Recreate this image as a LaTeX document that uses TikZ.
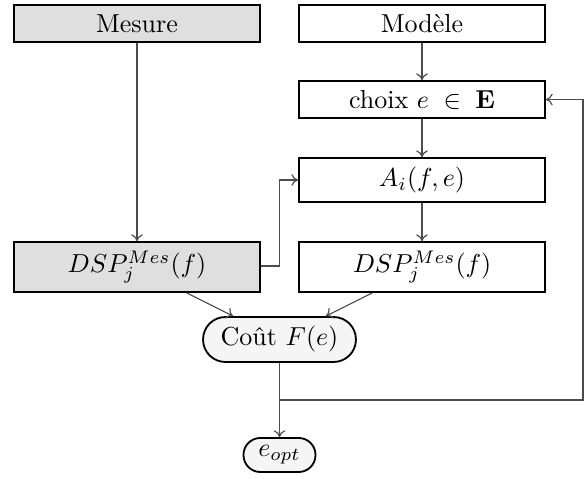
\documentclass[tikz,border=0pt]{standalone}
\usetikzlibrary{calc,arrows.meta}
\begin{document}
\begin{tikzpicture}[x=0.3846pt,y=-0.3846pt,
  box/.style={draw,line width=0.7pt,minimum width=94.6pt,inner sep=0pt},
  greybox/.style={box,fill=gray!25},
  pill/.style={draw,line width=0.7pt,fill=gray!8,inner sep=0pt},
  conn/.style={draw=black!70,line width=0.45pt,-{To[length=2.6pt,width=4.5pt]}},
  line/.style={draw=black!70,line width=0.45pt}]
\useasboundingbox (0,0) rectangle (585,479);
\node[greybox,minimum height=14.2pt] (mes) at (137,23.5) {Mesure};
\node[box,minimum height=14.2pt] (mod) at (422,23.5) {Modèle};
\node[box,minimum height=14.2pt] (choix) at (422,99.5) {choix $e\;\in\;\mathbf{E}$};
\node[box,minimum height=16.9pt] (ai) at (422,180) {$A_i(f,e)$};
\node[greybox,minimum height=19.2pt] (dspm) at (137,267) {$DSP_j^{Mes}(f)$};
\node[box,minimum height=19.2pt] (dspr) at (422,267) {$DSP_j^{Mes}(f)$};
\node[pill,minimum width=58.8pt,minimum height=17.3pt,rounded corners=8.6pt] (cout) at (279.5,339.5) {Coût $F(e)$};
\node[pill,minimum width=27.7pt,minimum height=13.1pt,rounded corners=6.5pt] (eopt) at (279.5,455) {$e_{opt}$};
\coordinate (split) at (279.5,400);
\coordinate (rightc) at (583,400);
\coordinate (leftc) at (279.5,266);
\draw[conn] (mes) -- (dspm);
\draw[conn] (mod) -- (choix);
\draw[conn] (choix) -- (ai);
\draw[conn] (ai) -- (dspr);
\draw[conn] (dspm.east |- leftc) -- (leftc) |- (ai.west);
\draw[conn] ($(dspm.south west)!0.7!(dspm.south east)$) -- ($(cout.north west)!0.2!(cout.north east)$);
\draw[conn] ($(dspr.south west)!0.3!(dspr.south east)$) -- ($(cout.north west)!0.8!(cout.north east)$);
\draw[conn] (cout) -- (eopt);
\draw[conn] (split) -- (rightc) |- (choix.east);
\end{tikzpicture}
\end{document}
